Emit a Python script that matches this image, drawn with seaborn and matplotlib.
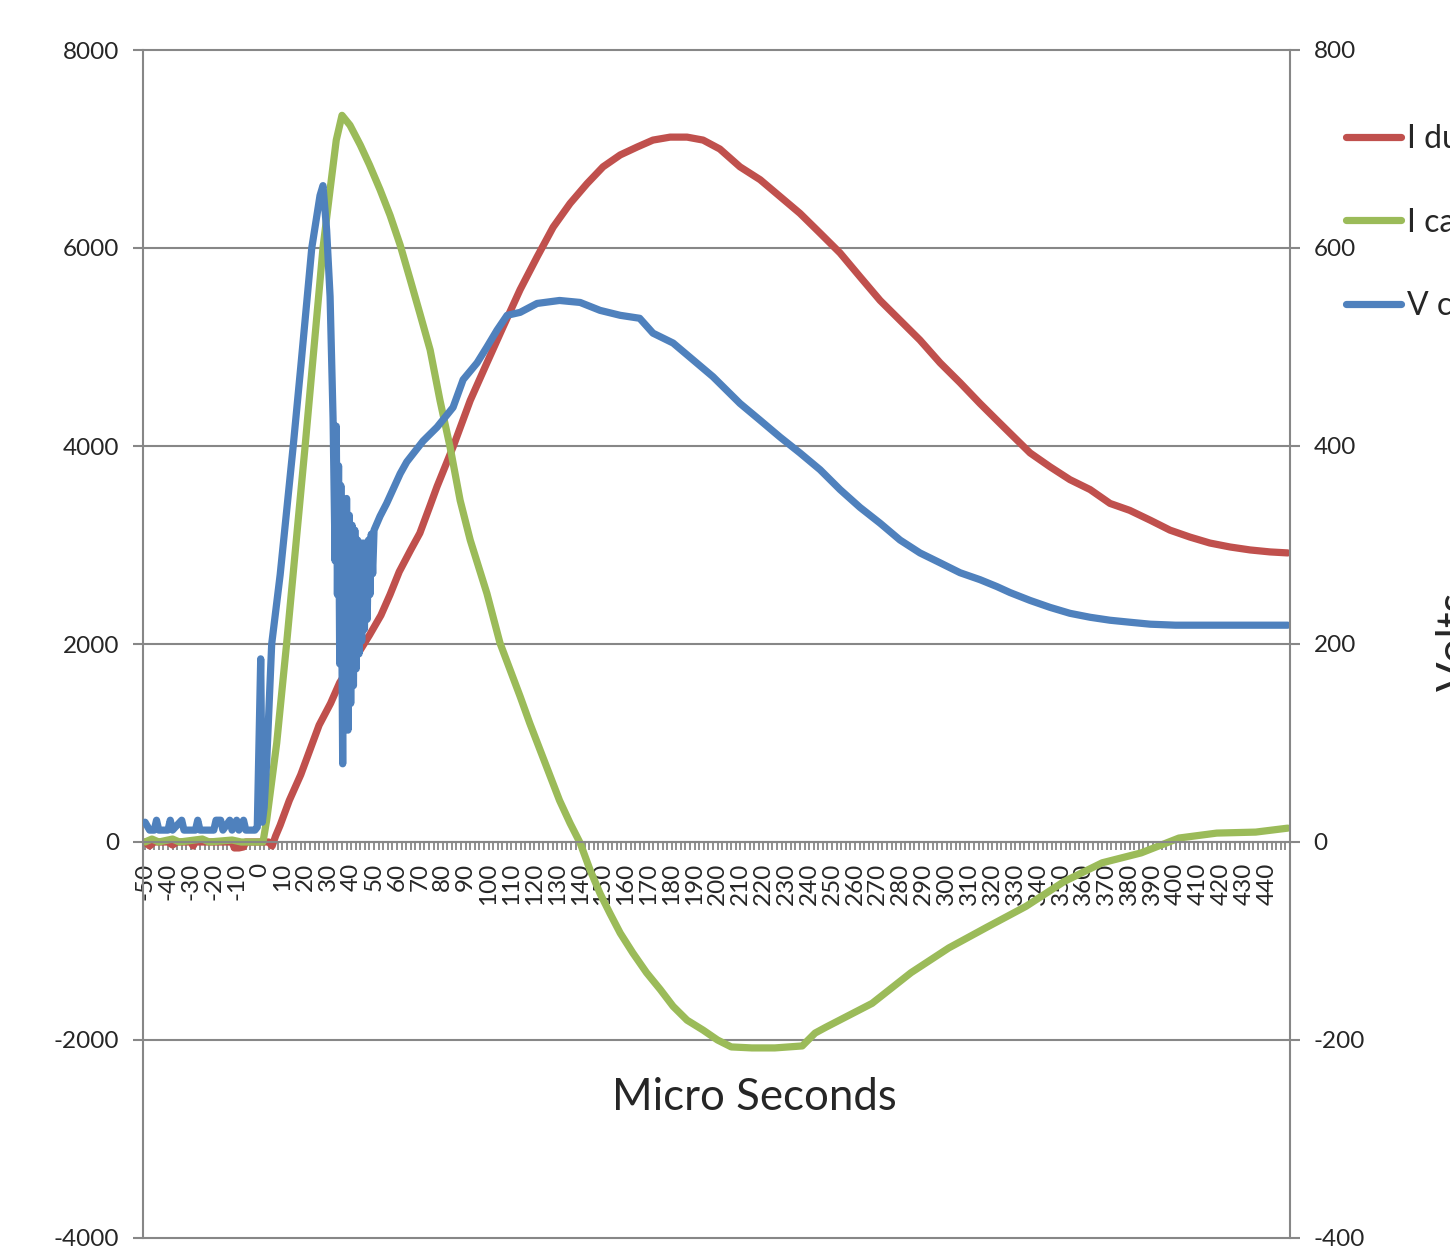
import numpy as np
import pandas as pd
import matplotlib
matplotlib.use("Agg")
import matplotlib.pyplot as plt
import seaborn as sns

# Data (time in micro seconds)
t_dut = [-50, -48, -46, -40, -38, -36, -30, -29, -28, -20, -12, -11, -9, -7, -6, 0, 4, 5.5, 7,
         9, 13, 18, 22, 26, 31, 35, 40, 44, 48, 53, 57, 61, 66, 70, 74.5, 77.5, 84.5, 92, 99.3,
         106.3, 113.8, 121.2, 128.2, 135.6, 143, 150, 157.5, 164.9, 171.8, 179.3, 186.7, 193.7,
         201, 209.8, 218.6, 227.3, 236, 244.8, 253.5, 262.2, 271, 279.7, 288.4, 297.2, 305.9,
         314.6, 322, 327.7, 336.5, 345.2, 353.9, 362.7, 371.4, 380, 389, 397.6, 406.3, 415,
         423.8, 432.6, 441.3, 449]
i_dut = [0, -40, 0, 0, -30, 0, 0, -40, 0, 0, 0, -60, -60, -50, 0, 0, 0, -40, 60,
         170, 420, 680, 930, 1180, 1400, 1610, 1790, 1940, 2090, 2290, 2500, 2730, 2950, 3120, 3400, 3590, 3990, 4460, 4840,
         5200, 5580, 5910, 6210, 6450, 6650, 6820, 6940, 7020, 7090, 7120, 7120, 7090,
         7000, 6820, 6690, 6520, 6350, 6150, 5950, 5710, 5470, 5270, 5070, 4840, 4640,
         4430, 4260, 4130, 3930, 3790, 3660, 3560, 3420, 3350, 3250, 3150, 3080, 3020,
         2980, 2950, 2930, 2920]

t_cap = [-50, -47, -44, -38, -35, -25, -22, -12, -8, 0, 1.5, 3.1, 7.5, 11.8, 19.9, 27.7, 30.8,
         33.5, 36, 39.5, 44, 48, 52.6, 57, 61.4, 65.8, 70, 74.5, 78.8, 83.2, 87.6, 92, 99.3, 105,
         109.4, 113.8, 118, 122.5, 127, 131, 135.6, 140, 144.3, 148.7, 153, 157.5, 163, 169, 175,
         180.6, 186.7, 193.7, 200, 206, 215, 225, 237, 242.6, 247.4, 267.5, 284.5, 301, 317.7,
         334.7, 351.3, 368, 385, 401.5, 418, 435, 449]
i_cap = [0, 30, 0, 30, 0, 30, 0, 20, 0, 0, 0, 220, 1000, 2000, 4000, 6000, 6590,
         7090, 7340, 7240, 7040, 6840, 6590, 6330, 6030, 5680, 5340, 4970, 4460, 3990, 3450, 3050, 2510, 2010,
         1740, 1470, 1200, 930, 660, 420, 190, -10, -280, -520, -720, -920, -1120, -1320, -1490,
         -1660, -1800, -1900, -2000, -2070, -2080, -2080, -2060, -1930, -1870, -1630, -1320, -1070, -860,
         -650, -400, -210, -110, 40, 90, 100, 140]

t_vcap = [-50, -48, -46, -45, -44, -40, -39, -38, -34, -33, -28, -27, -26, -20, -19, -17, -16,
          -13, -12, -10, -9, -7, -6, -2, -1, 0.5, 1.2, 2, 3.1, 5.3, 9, 14.7, 18, 22.8, 26.4, 27.7,
          29.3, 30.8, 32.1, 33.0, 33.5, 34.0, 34.5, 35.0, 35.5, 36.3, 36.8, 37.4, 38.0, 38.6, 39.2,
          39.8, 40.4, 41.0, 41.6, 42.2, 42.8, 43.4, 44.0, 44.6, 45.2, 45.8, 46.4, 47.0, 47.6, 48.2,
          48.8, 49.4, 50, 52.6, 55.5, 61.4, 64.3, 71.4, 77.5, 84.5, 88.9, 95, 99.3, 103.7, 108.1,
          113.8, 121.2, 131, 140, 148.7, 157.5, 166, 171.8, 180.6, 189.3, 198, 209.8, 218.6, 227.3,
          236, 244.8, 253.5, 262.2, 271, 279.7, 288.4, 297.2, 305.9, 314.6, 322, 327.7, 336.5,
          345.2, 353.9, 362.7, 371.4, 380, 389, 400, 420, 449]
v_cap = [20, 12, 12, 22, 12, 12, 22, 12, 22, 12, 12, 22, 12, 12, 22, 22, 12,
         22, 12, 22, 12, 22, 12, 12, 15, 185, 20, 35, 80, 200, 270, 400, 480, 600, 653, 663,
         618, 551, 428, 284, 420, 250, 380, 180, 360, 79, 340, 120, 347, 113, 330,
         140, 320, 158, 315, 175, 305, 190, 302, 203, 302, 215, 302, 225, 305, 250,
         311, 271, 315, 329, 342, 372, 384, 405, 419, 439, 467, 484, 500, 517, 532,
         535, 544, 547, 545, 537, 532, 529, 514, 504, 487, 470, 443, 426, 409,
         393, 376, 356, 338, 322, 305, 292, 282, 272, 265, 258, 252, 244,
         237, 231, 227, 224, 222, 220, 219, 219, 219]

labels = ["I dut", "I cap", "V cap"]
colors = ["#C0504D", "#9BBB59", "#4F81BD"]
x_ticks = list(range(-50, 441, 10))
left_ticks = [-4000, -2000, 0, 2000, 4000, 6000, 8000]
right_ticks = [-400, -200, 0, 200, 400, 600, 800]

sns.set_theme(style="white")
plt.rcParams['font.family'] = ['Lato', 'DejaVu Sans']
grey = "#878787"

fig = plt.figure(figsize=(14.5, 12.48), dpi=100)
ax1 = fig.add_axes([143/1450, 1-1238/1248, (1290-143)/1450, (1238-50)/1248])
ax2 = ax1.twinx()

lw = 5.2
kw = dict(linewidth=lw, legend=False, solid_capstyle='round', solid_joinstyle='round')
sns.lineplot(x=t_dut, y=i_dut, ax=ax1, color=colors[0], **kw)
sns.lineplot(x=t_cap, y=i_cap, ax=ax1, color=colors[1], **kw)
sns.lineplot(x=t_vcap, y=v_cap, ax=ax2, color=colors[2], **kw)

ax1.set_xlim(-50.9, 450)
ax1.set_ylim(-4000, 8000)
ax2.set_ylim(-400, 800)
ax1.set_yticks(left_ticks)
ax1.set_yticklabels([str(v) for v in left_ticks])
ax2.set_yticks(right_ticks)
ax2.set_yticklabels([str(v) for v in right_ticks])
ax1.set_xticks(x_ticks)
ax1.set_xticklabels([str(v) for v in x_ticks])
ax1.set_xticks(np.arange(-50, 451, 2), minor=True)

ax1.grid(axis='y', color=grey, linewidth=1.5)
ax1.grid(axis='x', visible=False)
for gl in ax1.get_ygridlines():
    gl.set_clip_on(False)

ax1.spines['top'].set_visible(False)
ax1.spines['right'].set_visible(False)
for s in ['top', 'bottom', 'left']:
    ax2.spines[s].set_visible(False)
ax1.spines['bottom'].set_position(('data', 0))
for sp in [ax1.spines['left'], ax1.spines['bottom'], ax2.spines['right']]:
    sp.set_color(grey)
    sp.set_linewidth(1.5)

ax1.tick_params(axis='y', which='major', direction='out', length=7, width=1.5, color=grey,
                labelsize=17.5, pad=10, left=True)
ax2.tick_params(axis='y', which='major', direction='out', length=7, width=1.5, color=grey,
                labelsize=17.5, pad=10, right=True)
ax1.tick_params(axis='x', which='both', direction='out', length=6, width=1.3, color=grey,
                labelsize=17.5, pad=9, bottom=True, labelrotation=90)
ax1.set_xlabel("")
ax1.set_ylabel("")
ax2.set_ylabel("")

fig.text(754/1450, 1-1098/1248, "Micro Seconds", fontsize=31.5, ha='center', va='center')
fig.text(1436/1450, 1-641/1248, "Volts", fontsize=31.5, rotation=90, ha='left', va='center')

handles = [plt.Line2D([], [], color=c, linewidth=lw, solid_capstyle='round') for c in colors]
ax2.legend(handles, labels, loc='upper left', bbox_to_anchor=(1346/1450, 1-124/1248),
           bbox_transform=fig.transFigure, frameon=False, fontsize=23, handlelength=1.72,
           handletextpad=0.18, labelspacing=1.68, borderpad=0, borderaxespad=0)

plt.savefig("out.png", dpi=100)
plt.close()
